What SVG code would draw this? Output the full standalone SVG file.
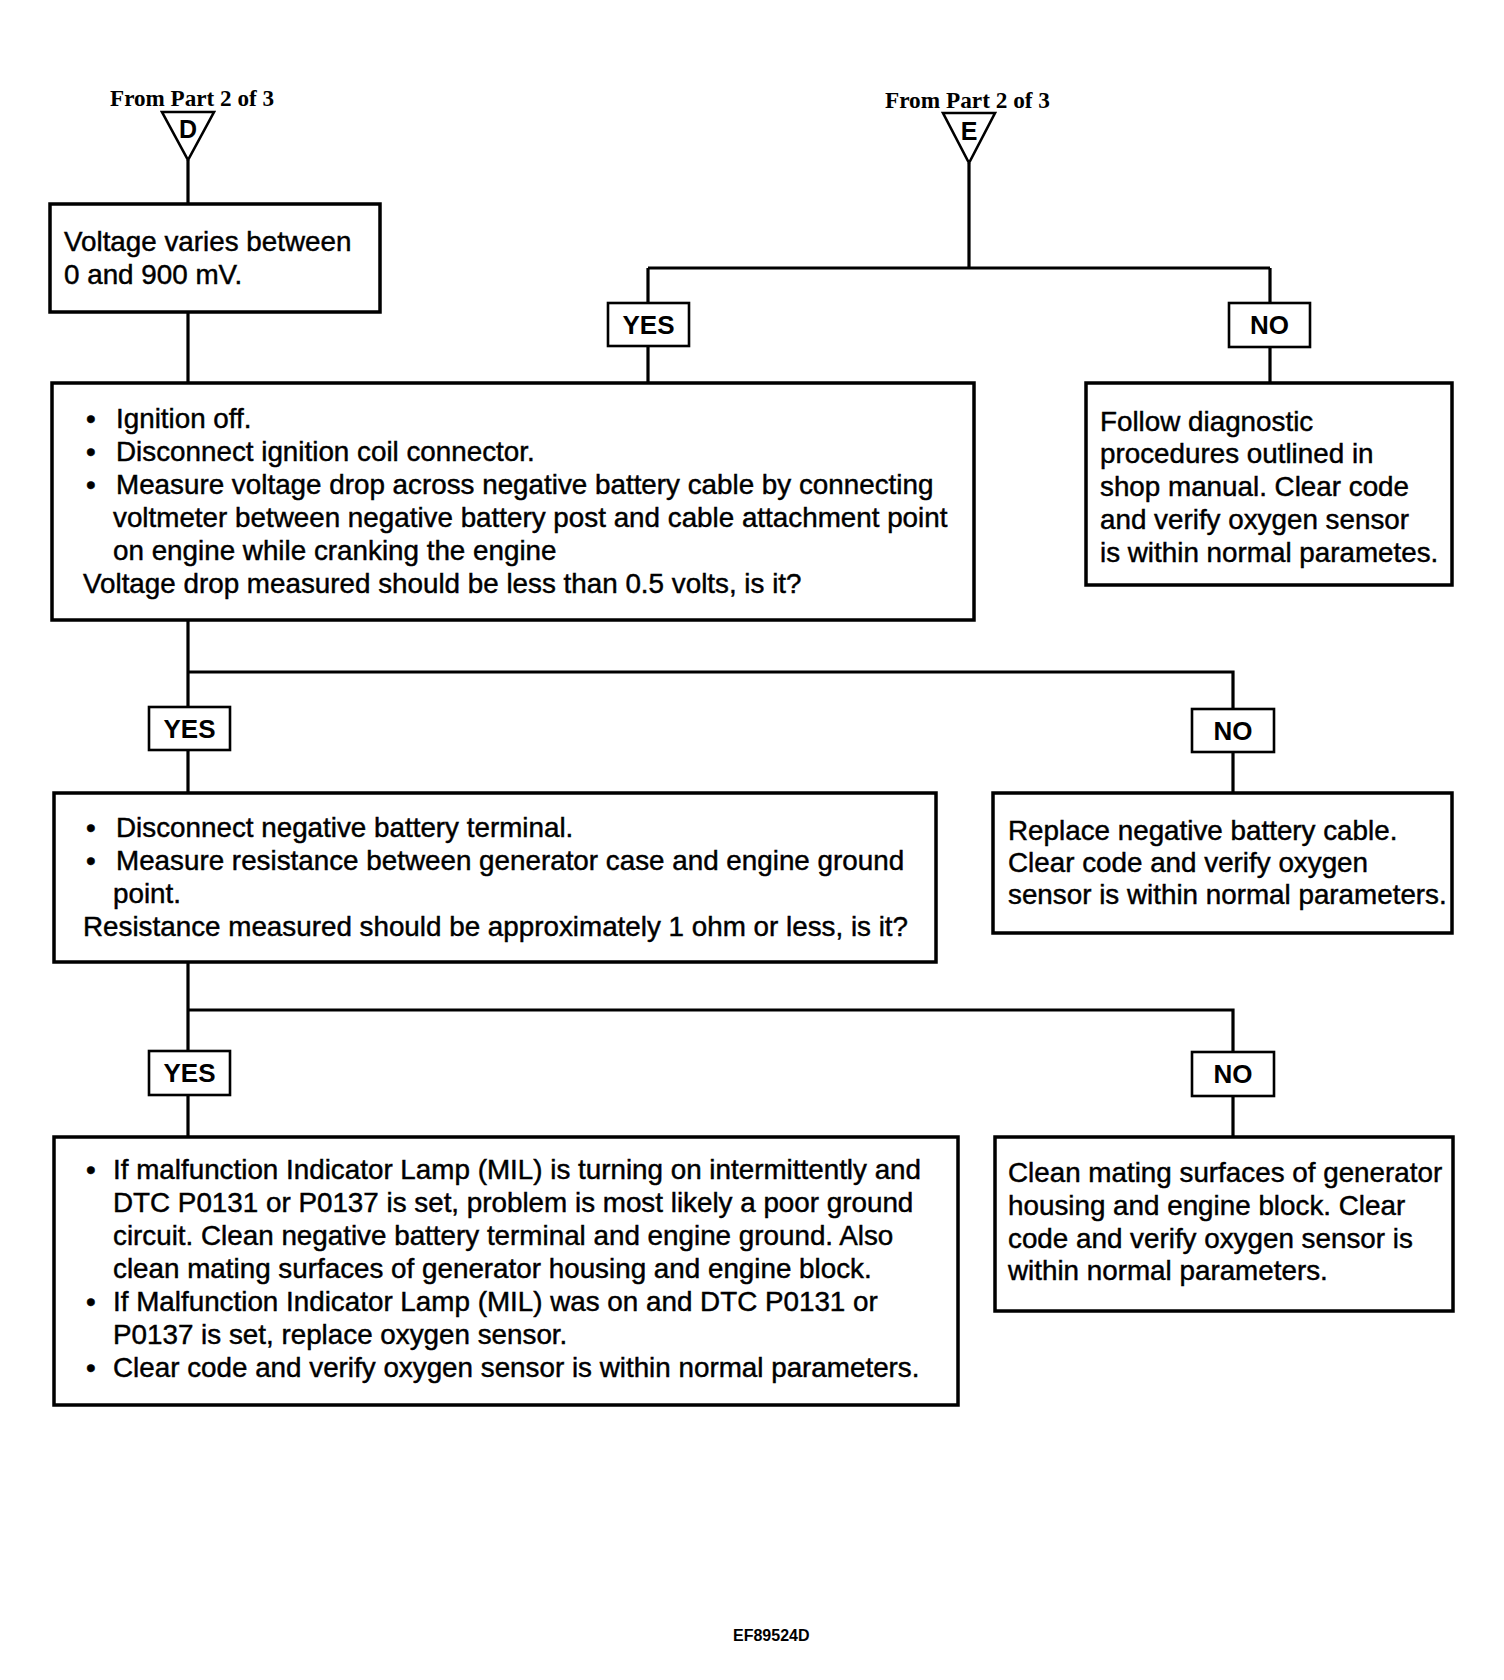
<svg xmlns="http://www.w3.org/2000/svg" width="1504" height="1680" viewBox="0 0 1504 1680">
<style>
.box{fill:#fff;stroke:#000;stroke-width:3.5}
.lbl{fill:#fff;stroke:#000;stroke-width:2.6}
.tri{fill:#fff;stroke:#000;stroke-width:2.6;stroke-linejoin:miter}
.ln{fill:none;stroke:#000;stroke-width:3.2}
.t{font-family:"Liberation Sans",Arial,sans-serif;font-size:27.8px;fill:#000;stroke:#000;stroke-width:0.45}
.yn{font-family:"Liberation Sans",Arial,sans-serif;font-size:26px;font-weight:bold;fill:#000;text-anchor:middle}
.ref{font-family:"Liberation Serif","Times New Roman",serif;font-size:23px;font-weight:bold;fill:#000}
.tl{font-family:"Liberation Sans",Arial,sans-serif;font-size:25px;font-weight:bold;fill:#000;text-anchor:middle}
.id{font-family:"Liberation Sans",Arial,sans-serif;font-size:16px;font-weight:bold;fill:#000}
</style>
<rect width="1504" height="1680" fill="#fff"/>
<g id="connectors">
<path class="ln" d="M188 160V204M188 312V383M969 163V268M648 268H1270M648 268V303M648 346V383M1270 268V303M1270 347V383"/>
<path class="ln" d="M188 620V707M188 672H1233V709M1233 752V793M188 750V793"/>
<path class="ln" d="M188 962V1051M188 1010H1233V1052M1233 1096V1137M188 1095V1137"/>
</g>
<g id="refD">
<text class="ref" x="110" y="106" textLength="164" lengthAdjust="spacingAndGlyphs">From Part 2 of 3</text>
<polygon class="tri" points="162,112 214,112 188,160"/>
<text class="tl" x="188" y="138">D</text>
</g>
<g id="refE">
<text class="ref" x="885" y="108" textLength="165" lengthAdjust="spacingAndGlyphs">From Part 2 of 3</text>
<polygon class="tri" points="943,113 995,113 969,163"/>
<text class="tl" x="969" y="140">E</text>
</g>
<g id="n1">
<rect class="box" x="50" y="204" width="330" height="108"/>
<text class="t" x="64" y="251">Voltage varies between</text>
<text class="t" x="64" y="284">0 and 900 mV.</text>
</g>
<g id="yes1"><rect class="lbl" x="608" y="303" width="81" height="43"/><text class="yn" x="648.5" y="334">YES</text></g>
<g id="no1"><rect class="lbl" x="1229" y="303" width="81" height="44"/><text class="yn" x="1269.5" y="334">NO</text></g>
<g id="n2">
<rect class="box" x="52" y="383" width="922" height="237"/>
<text class="t" x="86" y="428">•</text><text class="t" x="116" y="428">Ignition off.</text>
<text class="t" x="86" y="461">•</text><text class="t" x="116" y="461">Disconnect ignition coil connector.</text>
<text class="t" x="86" y="494">•</text><text class="t" x="116" y="494">Measure voltage drop across negative battery cable by connecting</text>
<text class="t" x="113" y="527">voltmeter between negative battery post and cable attachment point</text>
<text class="t" x="113" y="560">on engine while cranking the engine</text>
<text class="t" x="83" y="593">Voltage drop measured should be less than 0.5 volts, is it?</text>
</g>
<g id="n3">
<rect class="box" x="1086" y="383" width="366" height="202"/>
<text class="t" x="1100" y="431">Follow diagnostic</text>
<text class="t" x="1100" y="463">procedures outlined in</text>
<text class="t" x="1100" y="496">shop manual. Clear code</text>
<text class="t" x="1100" y="529">and verify oxygen sensor</text>
<text class="t" x="1100" y="562">is within normal parametes.</text>
</g>
<g id="yes2"><rect class="lbl" x="149" y="707" width="81" height="43"/><text class="yn" x="189.5" y="738">YES</text></g>
<g id="no2"><rect class="lbl" x="1192" y="709" width="82" height="43"/><text class="yn" x="1233" y="740">NO</text></g>
<g id="n4">
<rect class="box" x="54" y="793" width="882" height="169"/>
<text class="t" x="86" y="837">•</text><text class="t" x="116" y="837">Disconnect negative battery terminal.</text>
<text class="t" x="86" y="870">•</text><text class="t" x="116" y="870">Measure resistance between generator case and engine ground</text>
<text class="t" x="113" y="903">point.</text>
<text class="t" x="83" y="936">Resistance measured should be approximately 1 ohm or less, is it?</text>
</g>
<g id="n5">
<rect class="box" x="993" y="793" width="459" height="140"/>
<text class="t" x="1008" y="840">Replace negative battery cable.</text>
<text class="t" x="1008" y="872">Clear code and verify oxygen</text>
<text class="t" x="1008" y="904">sensor is within normal parameters.</text>
</g>
<g id="yes3"><rect class="lbl" x="149" y="1051" width="81" height="44"/><text class="yn" x="189.5" y="1082">YES</text></g>
<g id="no3"><rect class="lbl" x="1192" y="1052" width="82" height="44"/><text class="yn" x="1233" y="1083">NO</text></g>
<g id="n6">
<rect class="box" x="54" y="1137" width="904" height="268"/>
<text class="t" x="86" y="1179">•</text><text class="t" x="113" y="1179">If malfunction Indicator Lamp (MIL) is turning on intermittently and</text>
<text class="t" x="113" y="1212">DTC P0131 or P0137 is set, problem is most likely a poor ground</text>
<text class="t" x="113" y="1245">circuit. Clean negative battery terminal and engine ground. Also</text>
<text class="t" x="113" y="1278">clean mating surfaces of generator housing and engine block.</text>
<text class="t" x="86" y="1311">•</text><text class="t" x="113" y="1311">If Malfunction Indicator Lamp (MIL) was on and DTC P0131 or</text>
<text class="t" x="113" y="1344">P0137 is set, replace oxygen sensor.</text>
<text class="t" x="86" y="1377">•</text><text class="t" x="113" y="1377">Clear code and verify oxygen sensor is within normal parameters.</text>
</g>
<g id="n7">
<rect class="box" x="995" y="1137" width="458" height="174"/>
<text class="t" x="1008" y="1182">Clean mating surfaces of generator</text>
<text class="t" x="1008" y="1215">housing and engine block. Clear</text>
<text class="t" x="1008" y="1248">code and verify oxygen sensor is</text>
<text class="t" x="1008" y="1280">within normal parameters.</text>
</g>
<text class="id" x="733" y="1641">EF89524D</text>
</svg>
